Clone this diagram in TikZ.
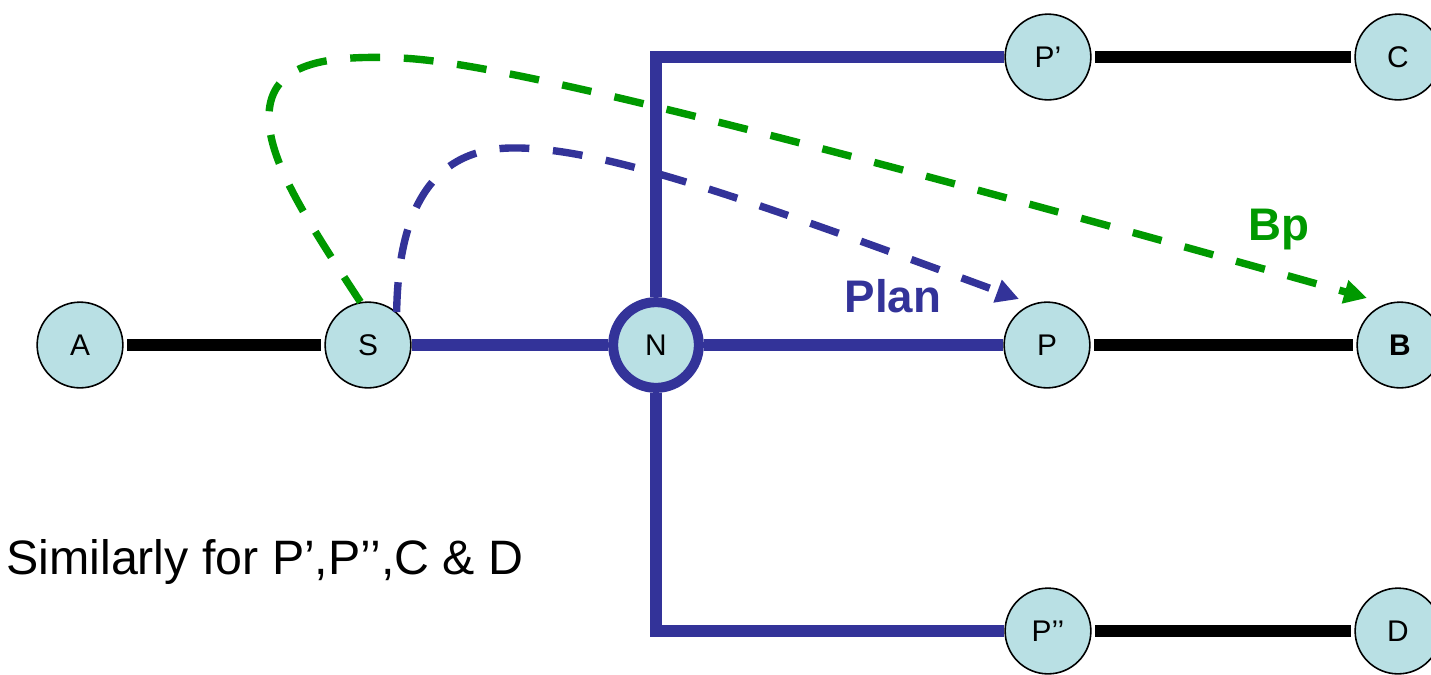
\documentclass[tikz,border=0pt]{standalone}
\usepackage{fontspec}
\setmainfont{Liberation Sans}
\usetikzlibrary{arrows.meta,backgrounds}
\definecolor{netblue}{RGB}{51,51,153}
\definecolor{netgreen}{RGB}{0,153,0}
\definecolor{hostfill}{RGB}{185,224,228}

\begin{document}
\begin{tikzpicture}[x=0.02cm,y=-0.02cm]
\tikzset{host/.style={circle,draw,line width=0.9pt,fill=hostfill,minimum size=48.8pt,inner sep=0pt,font=\fontsize{17}{20}\selectfont},
hub/.style={host,draw=netblue,line width=5.7pt},
wire/.style={line width=6.6pt,shorten <=2pt,shorten >=2pt},
link/.style={draw=netblue,line width=6.4pt},
route/.style={line width=4.2pt,dash pattern=on 17pt off 13.5pt,-{Triangle[length=13pt,width=13pt]}}}
\useasboundingbox (0,0) rectangle (1431,674);

\node[host] (a) at (80,345) {A};
\node[host] (s) at (368,345) {S};
\node[hub] (n) at (656,345) {N};
\node[host] (p) at (1047,345) {P};
\node[host] (b) at (1400,345) {\textbf{B}};
\node[host] (pp) at (1048,57) {P’};
\node[host] (c) at (1398,57) {C};
\node[host] (ppp) at (1048,631) {P’’};
\node[host] (d) at (1398,631) {D};
\coordinate (planend) at (1019,299);
\coordinate (bpend) at (1367,298);

\begin{scope}[on background layer]
\draw[wire] (a) -- (s);
\draw[wire] (p) -- (b);
\draw[wire] (pp) -- (c);
\draw[wire] (ppp) -- (d);
\draw[link] (s) -- (n);
\draw[link] (n) -- (p);
\draw[link] (n) |- (pp);
\draw[link] (n) |- (ppp);
\end{scope}

\draw[route,netblue] (s.49) .. controls (398,230) and (420,150) .. (510,148) .. controls (600,146) and (750,200) .. (planend);
\draw[route,netgreen] (s.100) .. controls (300,210) and (262,150) .. (270,105) .. controls (278,62) and (330,55) .. (400,58) .. controls (480,61) and (700,110) .. (bpend);

\node[anchor=base,text=netblue,font=\fontsize{26}{30}\selectfont\bfseries] (plan) at (893,312) {Plan};
\node[anchor=base,text=netgreen,font=\fontsize{26}{30}\selectfont\bfseries] (bp) at (1279,240) {Bp};
\node[anchor=base west,inner sep=0pt,font=\fontsize{27.5}{32}\selectfont] (note) at (6,574) {Similarly for P’,P’’,C \& D};
\end{tikzpicture}
\end{document}
